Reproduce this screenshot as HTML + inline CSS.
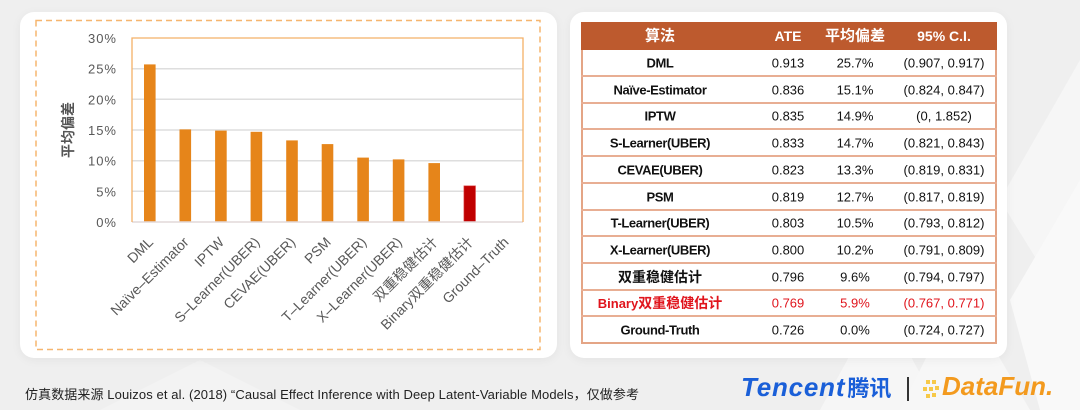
<!DOCTYPE html>
<html>
<head>
<meta charset="utf-8">
<style>
  html,body{margin:0;padding:0;}
  body{width:1080px;height:410px;position:relative;overflow:hidden;background:#efefef;
       font-family:"Liberation Sans","Noto Sans CJK SC",sans-serif;}
  .bg{position:absolute;left:0;top:0;}
  .card{position:absolute;background:#fff;border-radius:14px;box-shadow:0 2px 10px rgba(0,0,0,0.05);}
  .t{position:absolute;white-space:nowrap;transform:translate(-50%,-50%);font-size:13px;color:#111;line-height:1;}
  .b{font-weight:bold;letter-spacing:-0.4px;}
  .h{color:#fff;font-weight:bold;font-size:15px;}
  .red{color:#e0141c;}
  .hl{position:absolute;left:581px;width:416px;height:2px;background:#e8ae93;}
</style>
</head>
<body>
<svg class="bg" width="1080" height="410">
  <polygon points="820,410 880,300 940,410" fill="#f6f6f6"/>
  <polygon points="900,410 960,290 1030,410" fill="#f7f7f7"/>
  <polygon points="1000,200 1080,60 1080,330" fill="#f6f6f6"/>
  <polygon points="1010,300 1080,180 1080,410 1040,410" fill="#f9f9f9"/>
  <polygon points="100,410 200,360 300,410" fill="#f3f3f3"/>
</svg>

<div class="card" style="left:20px;top:12px;width:537px;height:346px;"></div>
<div class="card" style="left:570px;top:12px;width:437px;height:346px;"></div>

<svg style="position:absolute;left:0;top:0;" width="1080" height="410">
  <rect x="36" y="20.5" width="504" height="329" fill="none" stroke="#f6b56e" stroke-width="1.5" stroke-dasharray="6,4"/>
  <g stroke="#dedede" stroke-width="1.5">
    <line x1="132" x2="523" y1="191.3" y2="191.3"/>
    <line x1="132" x2="523" y1="160.7" y2="160.7"/>
    <line x1="132" x2="523" y1="130" y2="130"/>
    <line x1="132" x2="523" y1="99.3" y2="99.3"/>
    <line x1="132" x2="523" y1="68.7" y2="68.7"/>
  </g>
  <g fill="#e6851a">
    <rect x="144.0" y="64.4" width="11.6" height="157.6"/>
    <rect x="179.5" y="129.4" width="11.6" height="92.6"/>
    <rect x="215.1" y="130.6" width="11.6" height="91.4"/>
    <rect x="250.6" y="131.8" width="11.6" height="90.2"/>
    <rect x="286.2" y="140.4" width="11.6" height="81.6"/>
    <rect x="321.7" y="144.1" width="11.6" height="77.9"/>
    <rect x="357.3" y="157.6" width="11.6" height="64.4"/>
    <rect x="392.8" y="159.4" width="11.6" height="62.6"/>
    <rect x="428.4" y="163.1" width="11.6" height="58.9"/>
  </g>
  <rect x="463.9" y="185.8" width="11.6" height="36.2" fill="#c00000" stroke="#e05050" stroke-width="0.6"/>
  <line x1="132" x2="523" y1="222" y2="222" stroke="#e2d9d9" stroke-width="1.5"/>
  <polyline points="132,222 132,38 523,38 523,222" fill="none" stroke="#f4b067" stroke-width="1.3"/>
  <g font-family="Liberation Sans, sans-serif" font-size="13" fill="#595959" text-anchor="end" letter-spacing="1">
    <text x="117" y="43">30%</text>
    <text x="117" y="73.7">25%</text>
    <text x="117" y="104.3">20%</text>
    <text x="117" y="135">15%</text>
    <text x="117" y="165.7">10%</text>
    <text x="117" y="196.3">5%</text>
    <text x="117" y="227">0%</text>
  </g>
  <text transform="translate(73,130) rotate(-90)" text-anchor="middle" font-family="Liberation Sans, Noto Sans CJK SC, sans-serif" font-size="14" font-weight="bold" fill="#555">平均偏差</text>
  <g font-family="Liberation Sans, Noto Sans CJK SC, sans-serif" font-size="14" fill="#595959" text-anchor="end">
    <text transform="translate(154,243) rotate(-45)">DML</text>
    <text transform="translate(189.5,243) rotate(-45)">Naïve–Estimator</text>
    <text transform="translate(225,243) rotate(-45)">IPTW</text>
    <text transform="translate(260.6,243) rotate(-45)">S–Learner(UBER)</text>
    <text transform="translate(296.2,243) rotate(-45)">CEVAE(UBER)</text>
    <text transform="translate(331.7,243) rotate(-45)">PSM</text>
    <text transform="translate(367.3,243) rotate(-45)">T–Learner(UBER)</text>
    <text transform="translate(402.8,243) rotate(-45)">X–Learner(UBER)</text>
    <text transform="translate(438.4,243) rotate(-45)">双重稳健估计</text>
    <text transform="translate(473.9,243) rotate(-45)">Binary双重稳健估计</text>
    <text transform="translate(509.5,243) rotate(-45)">Ground–Truth</text>
  </g>
</svg>

<div style="position:absolute;left:581px;top:22px;width:416px;height:27.5px;background:#bd5a2e;"></div>
<div style="position:absolute;left:581px;top:49.5px;width:2px;height:294.5px;background:#e4a586;"></div>
<div style="position:absolute;left:995px;top:49.5px;width:2px;height:294.5px;background:#e4a586;"></div>
<div class="hl" style="top:75px"></div>
<div class="hl" style="top:101.7px"></div>
<div class="hl" style="top:128.4px"></div>
<div class="hl" style="top:155.1px"></div>
<div class="hl" style="top:181.8px"></div>
<div class="hl" style="top:208.5px"></div>
<div class="hl" style="top:235.2px"></div>
<div class="hl" style="top:261.9px"></div>
<div class="hl" style="top:288.6px"></div>
<div class="hl" style="top:315.3px"></div>
<div class="hl" style="top:342px;background:#e4a586;"></div>

<div class="t h" style="left:660px;top:36px;">算法</div>
<div class="t h" style="left:788px;top:36px;font-size:14px;">ATE</div>
<div class="t h" style="left:855px;top:36px;">平均偏差</div>
<div class="t h" style="left:944px;top:36px;font-size:14px;">95% C.I.</div>

<div class="t b" style="left:660px;top:63px;">DML</div>
<div class="t" style="left:788px;top:63px;">0.913</div>
<div class="t" style="left:855px;top:63px;">25.7%</div>
<div class="t" style="left:944px;top:63px;">(0.907, 0.917)</div>

<div class="t b" style="left:660px;top:89.7px;">Naïve-Estimator</div>
<div class="t" style="left:788px;top:89.7px;">0.836</div>
<div class="t" style="left:855px;top:89.7px;">15.1%</div>
<div class="t" style="left:944px;top:89.7px;">(0.824, 0.847)</div>

<div class="t b" style="left:660px;top:116.4px;">IPTW</div>
<div class="t" style="left:788px;top:116.4px;">0.835</div>
<div class="t" style="left:855px;top:116.4px;">14.9%</div>
<div class="t" style="left:944px;top:116.4px;">(0, 1.852)</div>

<div class="t b" style="left:660px;top:143.1px;">S-Learner(UBER)</div>
<div class="t" style="left:788px;top:143.1px;">0.833</div>
<div class="t" style="left:855px;top:143.1px;">14.7%</div>
<div class="t" style="left:944px;top:143.1px;">(0.821, 0.843)</div>

<div class="t b" style="left:660px;top:169.8px;">CEVAE(UBER)</div>
<div class="t" style="left:788px;top:169.8px;">0.823</div>
<div class="t" style="left:855px;top:169.8px;">13.3%</div>
<div class="t" style="left:944px;top:169.8px;">(0.819, 0.831)</div>

<div class="t b" style="left:660px;top:196.5px;">PSM</div>
<div class="t" style="left:788px;top:196.5px;">0.819</div>
<div class="t" style="left:855px;top:196.5px;">12.7%</div>
<div class="t" style="left:944px;top:196.5px;">(0.817, 0.819)</div>

<div class="t b" style="left:660px;top:223.2px;">T-Learner(UBER)</div>
<div class="t" style="left:788px;top:223.2px;">0.803</div>
<div class="t" style="left:855px;top:223.2px;">10.5%</div>
<div class="t" style="left:944px;top:223.2px;">(0.793, 0.812)</div>

<div class="t b" style="left:660px;top:249.9px;">X-Learner(UBER)</div>
<div class="t" style="left:788px;top:249.9px;">0.800</div>
<div class="t" style="left:855px;top:249.9px;">10.2%</div>
<div class="t" style="left:944px;top:249.9px;">(0.791, 0.809)</div>

<div class="t b" style="left:660px;top:276.6px;font-size:14px;letter-spacing:0;">双重稳健估计</div>
<div class="t" style="left:788px;top:276.6px;">0.796</div>
<div class="t" style="left:855px;top:276.6px;">9.6%</div>
<div class="t" style="left:944px;top:276.6px;">(0.794, 0.797)</div>

<div class="t b red" style="left:660px;top:303.3px;letter-spacing:0;">Binary<span style="font-size:14px;">双重稳健估计</span></div>
<div class="t red" style="left:788px;top:303.3px;">0.769</div>
<div class="t red" style="left:855px;top:303.3px;">5.9%</div>
<div class="t red" style="left:944px;top:303.3px;">(0.767, 0.771)</div>

<div class="t b" style="left:660px;top:330px;">Ground-Truth</div>
<div class="t" style="left:788px;top:330px;">0.726</div>
<div class="t" style="left:855px;top:330px;">0.0%</div>
<div class="t" style="left:944px;top:330px;">(0.724, 0.727)</div>

<div style="position:absolute;left:25px;top:388px;font-size:13px;letter-spacing:0.1px;color:#222;white-space:nowrap;line-height:1;">仿真数据来源 Louizos et al. (2018) “Causal Effect Inference with Deep Latent-Variable Models，仅做参考</div>

<div style="position:absolute;left:741px;top:374px;font-size:26px;font-weight:bold;font-style:italic;color:#1a5fd8;white-space:nowrap;line-height:1;letter-spacing:0.8px;">Tencent<span style="font-style:normal;font-size:22px;letter-spacing:0;margin-left:2px;">腾讯</span></div>
<div style="position:absolute;left:907px;top:377px;width:1.5px;height:24px;background:#333;"></div>
<svg style="position:absolute;left:920px;top:372px;" width="30" height="32">
  <g fill="#f7c948">
    <rect x="6" y="8" width="4" height="4"/>
    <rect x="12" y="8" width="4" height="4"/>
    <rect x="3" y="15" width="4" height="4"/>
    <rect x="9" y="15" width="4" height="4"/>
    <rect x="15" y="14" width="4" height="4"/>
    <rect x="6" y="22" width="4" height="4"/>
    <rect x="12" y="21" width="4" height="4"/>
  </g>
</svg>
<div style="position:absolute;left:942px;top:373px;font-size:26px;font-weight:bold;font-style:italic;color:#f39a1e;white-space:nowrap;line-height:1;">DataFun.</div>
</body>
</html>
